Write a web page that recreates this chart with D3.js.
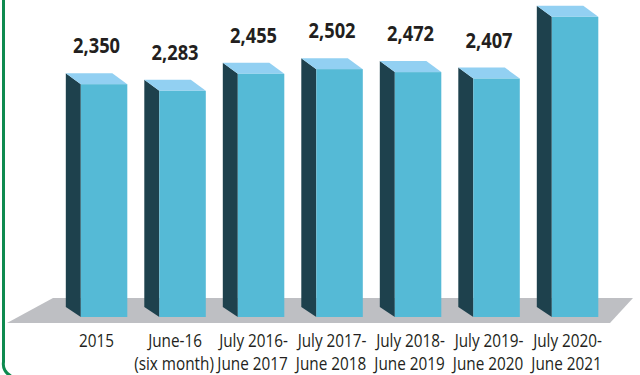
<!DOCTYPE html>
<html>
<head>
<meta charset="utf-8">
<script src="https://cdn.jsdelivr.net/npm/d3@7"></script>
<style>
  html, body { margin: 0; padding: 0; background: #fff; }
  svg { display: block; }
  text { font-family: "Open Sans", "Noto Sans", sans-serif; fill: #231f20; }
</style>
</head>
<body>
<svg id="chart" width="640" height="375"></svg>
<script>
const categories = ["2015", "June-16", "July 2016-", "July 2017-", "July 2018-", "July 2019-", "July 2020-"];
const subLabels = ["", "(six month)", "June 2017", "June 2018", "June 2019", "June 2020", "June 2021"];
const values = [2350, 2283, 2455, 2502, 2472, 2407, 3030];
const valueLabels = ["2,350", "2,283", "2,455", "2,502", "2,472", "2,407", ""];

const svg = d3.select("#chart");
const baseY = 317;
const dx = 15, dy = 11;

const x = d3.scaleBand().domain(categories).range([57.3, 606.8]).paddingInner(0.2166).paddingOuter(0.1083);
const y = d3.scaleLinear().domain([0, 3200]).range([baseY, 0]);

// green frame (left edge with rounded bottom corner)
svg.append("path")
  .attr("d", "M3.5,-2 V362 A13 13 0 0 0 11,376")
  .attr("fill", "none").attr("stroke", "#0e8a4f").attr("stroke-width", 3);

// floor
svg.append("polygon")
  .attr("points", [[53,298],[633,298],[610,323],[7,323]].map(p => p.join(",")).join(" "))
  .attr("fill", "#bebfc3");

const data = categories.map((c, i) => ({c, v: values[i], lab: valueLabels[i], sub: subLabels[i]}));

const g = svg.append("g").selectAll("g").data(data).join("g");

function label(sel, cx, yy, size, weight, squeeze, txt) {
  sel.append("text")
    .attr("transform", `translate(${cx},${yy}) scale(${squeeze},1)`)
    .attr("text-anchor", "middle")
    .attr("font-size", size).attr("font-weight", weight)
    .text(txt);
}

g.each(function(d) {
  const sel = d3.select(this);
  const fl = x(d.c) + dx;
  const fr = x(d.c) + x.bandwidth();
  const yt = y(d.v);
  const cx = x(d.c) + x.bandwidth() / 2;
  // side (dark)
  sel.append("polygon")
    .attr("points", [[fl, yt], [fl - dx, yt - dy], [fl - dx, baseY - dy + 1], [fl, baseY]].map(p => p.join(",")).join(" "))
    .attr("fill", "#1e414d");
  // top
  sel.append("polygon")
    .attr("points", [[fl, yt], [fr, yt], [fr - dx, yt - dy], [fl - dx, yt - dy]].map(p => p.join(",")).join(" "))
    .attr("fill", "#92d0f2");
  // front
  sel.append("rect")
    .attr("x", fl).attr("y", yt).attr("width", fr - fl).attr("height", baseY - yt)
    .attr("fill", "#55bad6");
  if (d.lab) label(sel, cx, yt - dy - 20, 21, "bold", 0.87, d.lab);
  label(sel, cx, 347, 18, "normal", 0.85, d.c);
  if (d.sub) label(sel, cx - 1, 370, 18, "normal", 0.85, d.sub);
});
</script>
</body>
</html>
